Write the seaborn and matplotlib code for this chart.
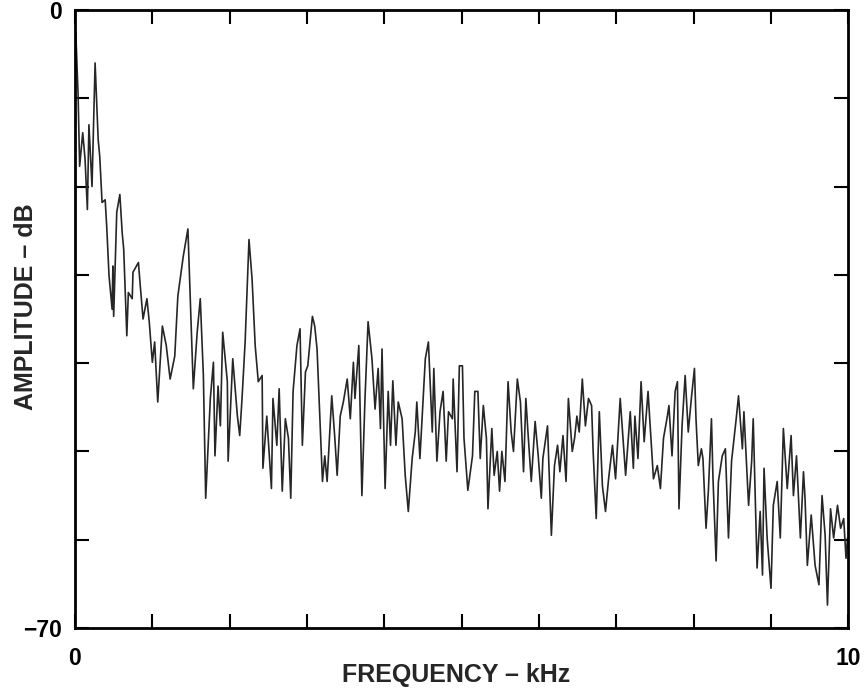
import matplotlib
matplotlib.use("Agg")
import matplotlib.pyplot as plt
import seaborn as sns
import pandas as pd

# Frequency (kHz) and amplitude (dB)
freq_khz = [
    0.01, 0.04, 0.06, 0.10, 0.13, 0.16, 0.18, 0.22, 0.26, 0.30,
    0.32, 0.35, 0.39, 0.41, 0.44, 0.48, 0.49, 0.50, 0.54, 0.58,
    0.61, 0.63, 0.67, 0.69, 0.74, 0.75, 0.82, 0.84, 0.88, 0.93,
    0.96, 1.00, 1.03, 1.07, 1.13, 1.18, 1.23, 1.29, 1.33, 1.40,
    1.46, 1.49, 1.53, 1.58, 1.62, 1.66, 1.69, 1.75, 1.79, 1.81,
    1.85, 1.88, 1.91, 1.97, 1.98, 2.04, 2.10, 2.13, 2.16, 2.20,
    2.25, 2.29, 2.33, 2.37, 2.42, 2.43, 2.48, 2.54, 2.56, 2.61,
    2.64, 2.68, 2.72, 2.76, 2.79, 2.82, 2.87, 2.91, 2.94, 2.98,
    3.01, 3.07, 3.10, 3.13, 3.20, 3.23, 3.26, 3.32, 3.36, 3.39,
    3.43, 3.47, 3.52, 3.56, 3.60, 3.62, 3.67, 3.71, 3.75, 3.79,
    3.84, 3.88, 3.92, 3.95, 3.97, 4.01, 4.05, 4.08, 4.11, 4.15,
    4.18, 4.23, 4.27, 4.31, 4.36, 4.40, 4.42, 4.46, 4.50, 4.53,
    4.57, 4.62, 4.64, 4.68, 4.72, 4.76, 4.80, 4.83, 4.88, 4.89,
    4.94, 4.97, 5.01, 5.03, 5.08, 5.14, 5.17, 5.21, 5.24, 5.28,
    5.32, 5.34, 5.39, 5.42, 5.46, 5.49, 5.52, 5.56, 5.60, 5.64,
    5.67, 5.72, 5.76, 5.80, 5.83, 5.86, 5.90, 5.95, 5.99, 6.03,
    6.05, 6.11, 6.16, 6.20, 6.24, 6.27, 6.31, 6.35, 6.38, 6.43,
    6.46, 6.49, 6.52, 6.56, 6.60, 6.64, 6.68, 6.70, 6.74, 6.78,
    6.82, 6.86, 6.90, 6.95, 6.99, 7.05, 7.12, 7.18, 7.22, 7.24,
    7.28, 7.32, 7.36, 7.41, 7.48, 7.53, 7.57, 7.61, 7.66, 7.68,
    7.72, 7.76, 7.79, 7.81, 7.85, 7.89, 7.93, 7.97, 8.01, 8.03,
    8.06, 8.10, 8.12, 8.16, 8.19, 8.23, 8.25, 8.29, 8.32, 8.37,
    8.41, 8.45, 8.49, 8.55, 8.58, 8.63, 8.65, 8.71, 8.75, 8.77,
    8.82, 8.86, 8.89, 8.91, 8.95, 9.00, 9.03, 9.08, 9.12, 9.16,
    9.21, 9.26, 9.29, 9.33, 9.38, 9.42, 9.44, 9.47, 9.52, 9.57,
    9.62, 9.66, 9.70, 9.73, 9.77, 9.81, 9.86, 9.90, 9.94, 9.97,
    9.99,
]
amplitude_db = [
    -2.5, -9.6, -17.7, -13.9, -16.9, -22.6, -13.0, -20.0, -6.0, -14.7,
    -16.6, -21.8, -21.5, -24.5, -30.1, -33.9, -29.0, -34.7, -22.9, -20.9,
    -25.2, -27.1, -36.9, -32.0, -32.7, -29.7, -28.6, -30.8, -35.0, -32.7,
    -35.3, -39.9, -37.6, -44.4, -35.8, -38.0, -41.8, -39.2, -32.4, -27.9,
    -24.8, -32.7, -42.9, -36.5, -32.7, -41.4, -55.3, -44.0, -39.9, -50.5,
    -42.6, -47.1, -36.5, -42.1, -51.1, -39.5, -46.0, -48.2, -44.0, -37.6,
    -26.0, -30.5, -38.0, -42.1, -41.4, -51.9, -46.0, -54.2, -44.0, -49.3,
    -42.9, -54.5, -46.3, -48.5, -55.3, -43.2, -38.0, -36.1, -49.3, -41.0,
    -40.3, -34.7, -35.8, -38.4, -53.4, -50.5, -53.4, -43.7, -48.5, -52.7,
    -46.0, -44.4, -41.8, -46.3, -39.9, -44.0, -38.0, -55.0, -44.0, -35.3,
    -39.5, -45.2, -40.6, -47.4, -38.4, -54.2, -43.2, -49.3, -42.0, -49.3,
    -44.4, -46.3, -52.7, -56.8, -50.8, -47.8, -44.4, -50.8, -44.4, -39.5,
    -37.6, -47.8, -40.6, -51.1, -45.5, -43.2, -51.1, -45.5, -46.3, -41.8,
    -52.3, -40.3, -40.3, -48.5, -54.4, -50.5, -43.2, -43.2, -50.8, -44.8,
    -48.5, -56.5, -47.4, -52.7, -50.0, -54.5, -50.0, -53.4, -42.1, -47.8,
    -50.0, -41.8, -44.4, -52.3, -44.0, -48.2, -53.4, -46.6, -50.5, -55.3,
    -50.8, -47.1, -59.5, -51.6, -49.3, -52.3, -48.2, -53.4, -44.0, -50.0,
    -48.5, -46.0, -47.8, -41.8, -47.1, -44.0, -44.8, -50.0, -57.6, -45.5,
    -53.9, -56.8, -53.1, -49.3, -53.1, -44.0, -52.7, -45.5, -51.9, -46.0,
    -50.8, -42.1, -48.9, -43.2, -53.1, -51.6, -54.2, -48.5, -46.0, -44.8,
    -50.5, -43.2, -42.1, -56.5, -47.1, -41.4, -47.8, -44.0, -40.6, -46.3,
    -51.6, -49.7, -50.8, -58.7, -54.5, -46.3, -53.1, -62.4, -53.4, -50.5,
    -49.7, -59.8, -51.1, -46.3, -43.7, -49.7, -45.5, -56.1, -51.1, -46.3,
    -63.2, -56.8, -64.0, -51.9, -59.8, -65.5, -56.1, -53.4, -59.8, -47.4,
    -54.2, -48.2, -55.0, -50.5, -59.8, -52.3, -55.3, -62.9, -57.2, -62.9,
    -65.1, -55.0, -59.5, -67.4, -56.5, -59.8, -56.1, -58.7, -57.6, -62.1,
    -59.8,
]

x_ticks = list(range(0, 11))
x_tick_labels = ["0"] + [""] * 9 + ["10"]
y_ticks = list(range(-70, 1, 10))
y_tick_labels = ["\u221270"] + [""] * 6 + ["0"]

df = pd.DataFrame({"freq": freq_khz, "amp": amplitude_db})

sns.set_style("ticks")
plt.rcParams["font.family"] = ["Liberation Sans", "DejaVu Sans"]
plt.rcParams["font.weight"] = "bold"

fig = plt.figure(figsize=(8.66, 6.89), dpi=100)
ax = fig.add_axes([0.0866, 0.0885, 0.893, 0.897])

sns.lineplot(data=df, x="freq", y="amp", ax=ax, color="#262626",
             linewidth=1.2, estimator=None, sort=False)

ax.set_xlim(0, 10)
ax.set_ylim(-70, 0)
ax.set_xticks(x_ticks)
ax.set_xticklabels(x_tick_labels)
ax.set_yticks(y_ticks)
ax.set_yticklabels(y_tick_labels)

ax.tick_params(axis="both", which="major", direction="in", length=10,
               width=1.5, color="black", labelsize=16.5, top=True, right=True,
               labelcolor="black")
ax.tick_params(axis="x", pad=13.5)
ax.tick_params(axis="y", pad=9.5)
for lab in ax.get_xticklabels() + ax.get_yticklabels():
    lab.set_fontweight("bold")

for s in ax.spines.values():
    s.set_visible(True)
    s.set_linewidth(2.0)
    s.set_color("black")

ax.set_xlabel("FREQUENCY \u2013 kHz", fontsize=18, fontweight="bold")
ax.set_ylabel("AMPLITUDE \u2013 dB", fontsize=18, fontweight="bold")
ax.xaxis.set_label_coords(0.493, -0.057)
ax.yaxis.set_label_coords(-0.048, 0.52)

fig.savefig("out.png", dpi=100)
